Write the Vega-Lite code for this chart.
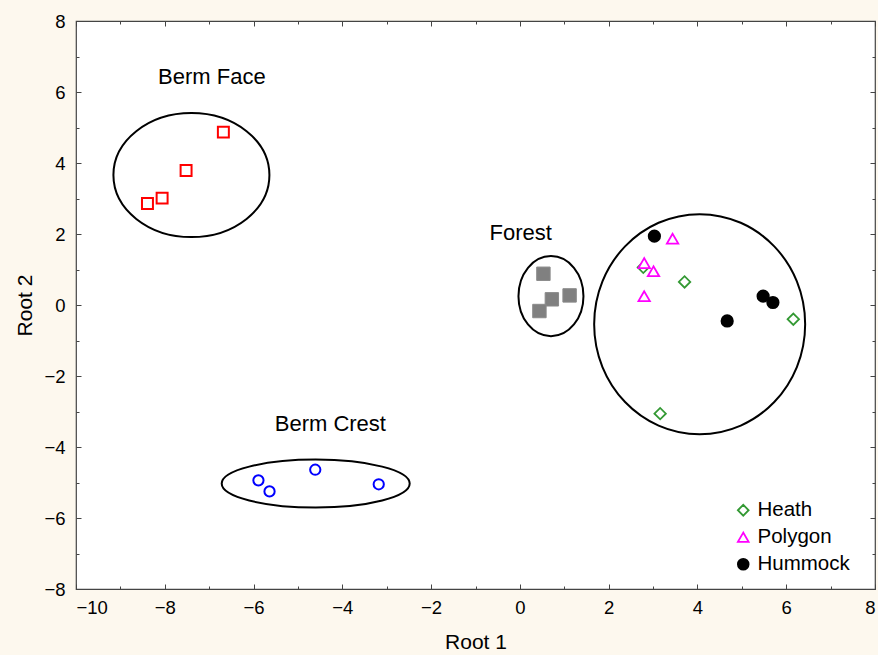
{
  "$schema": "https://vega.github.io/schema/vega-lite/v6.json",
  "width": 799,
  "height": 568,
  "autosize": {"type": "none"},
  "padding": {"left": 76, "top": 21, "right": 3, "bottom": 66},
  "background": "#fdf8ee",
  "datasets": {
    "groups": [
      {"group": "Berm Face", "cx": -7.40, "cy": 3.66},
      {"group": "Berm Crest", "cx": -4.60, "cy": -5.03},
      {"group": "Forest", "cx": 0.70, "cy": 0.25},
      {"group": "Tundra", "cx": 4.05, "cy": -0.54}
    ],
    "samples": [
      {"series": "Berm Face", "root1": -6.68, "root2": 4.87},
      {"series": "Berm Face", "root1": -7.52, "root2": 3.79},
      {"series": "Berm Face", "root1": -8.06, "root2": 3.01},
      {"series": "Berm Face", "root1": -8.39, "root2": 2.86},
      {"series": "Forest", "root1": 0.53, "root2": 0.88},
      {"series": "Forest", "root1": 0.72, "root2": 0.16},
      {"series": "Forest", "root1": 1.12, "root2": 0.27},
      {"series": "Forest", "root1": 0.44, "root2": -0.17},
      {"series": "Berm Crest", "root1": -5.89, "root2": -4.94},
      {"series": "Berm Crest", "root1": -5.64, "root2": -5.25},
      {"series": "Berm Crest", "root1": -4.61, "root2": -4.64},
      {"series": "Berm Crest", "root1": -3.18, "root2": -5.05},
      {"series": "Heath", "root1": 3.71, "root2": 0.65},
      {"series": "Heath", "root1": 6.16, "root2": -0.40},
      {"series": "Heath", "root1": 3.16, "root2": -3.06},
      {"series": "Heath", "root1": 2.78, "root2": 1.06},
      {"series": "Polygon", "root1": 3.44, "root2": 1.87},
      {"series": "Polygon", "root1": 2.80, "root2": 1.18},
      {"series": "Polygon", "root1": 3.01, "root2": 0.95},
      {"series": "Polygon", "root1": 2.80, "root2": 0.25},
      {"series": "Hummock", "root1": 3.03, "root2": 1.94},
      {"series": "Hummock", "root1": 5.48, "root2": 0.25},
      {"series": "Hummock", "root1": 5.70, "root2": 0.07},
      {"series": "Hummock", "root1": 4.67, "root2": -0.45}
    ],
    "captions": [
      {"text": "Berm Face", "root1": -6.94, "root2": 6.42},
      {"text": "Forest", "root1": 0.02, "root2": 2.03},
      {"text": "Berm Crest", "root1": -4.27, "root2": -3.36}
    ]
  },
  "config": {
    "font": "Liberation Sans",
    "view": {"fill": "white", "stroke": "#444444", "strokeWidth": 1.2},
    "axis": {
      "labelFont": "Liberation Sans",
      "labelFontSize": 18.5,
      "labelColor": "#000000",
      "titleFont": "Liberation Sans",
      "titleFontSize": 21,
      "titleFontWeight": "normal",
      "titleColor": "#000000",
      "domainColor": "#444444",
      "tickColor": "#444444",
      "gridColor": "#b4b4b4",
      "gridDash": [1, 2],
      "gridWidth": 1
    },
    "legend": {
      "orient": "none",
      "legendX": 657,
      "legendY": 479,
      "labelFont": "Liberation Sans",
      "labelFontSize": 20.5,
      "labelColor": "#000000",
      "rowPadding": 6,
      "labelOffset": 4,
      "symbolSize": 115,
      "symbolStrokeWidth": 1.8
    }
  },
  "layer": [
    {
      "data": {"name": "groups"},
      "transform": [{"filter": "datum.group === 'Berm Face'"}],
      "mark": {"type": "point", "filled": false, "stroke": "#000000", "strokeWidth": 2, "opacity": 1, "size": 24336,
               "shape": "M-1,0A1,0.795,0,1,1,1,0A1,0.795,0,1,1,-1,0Z"},
      "encoding": {
        "x": {
          "field": "cx", "type": "quantitative",
          "scale": {"domain": [-10, 8], "nice": false, "zero": false},
          "axis": {
            "orient": "top", "values": [-10,-9,-8,-7,-6,-5,-4,-3,-2,-1,0,1,2,3,4,5,6,7,8],
            "labels": false, "grid": false, "domain": false, "title": null,
            "tickSize": {"condition": {"test": "datum.value % 2 === 0", "value": -5}, "value": -3}
          }
        },
        "y": {
          "field": "cy", "type": "quantitative",
          "scale": {"domain": [-8, 8], "nice": false, "zero": false},
          "axis": {
            "orient": "right", "values": [-8,-7,-6,-5,-4,-3,-2,-1,0,1,2,3,4,5,6,7,8],
            "labels": false, "grid": false, "domain": false, "title": null,
            "tickSize": {"condition": {"test": "datum.value % 2 === 0", "value": -5}, "value": -3}
          }
        }
      }
    },
    {
      "data": {"name": "groups"},
      "transform": [{"filter": "datum.group === 'Berm Crest'"}],
      "mark": {"type": "point", "filled": false, "stroke": "#000000", "strokeWidth": 2, "opacity": 1, "size": 35344,
               "shape": "M-1,0A1,0.255,0,1,1,1,0A1,0.255,0,1,1,-1,0Z"},
      "encoding": {
        "x": {"field": "cx", "type": "quantitative", "axis": null},
        "y": {"field": "cy", "type": "quantitative", "axis": null}
      }
    },
    {
      "data": {"name": "groups"},
      "transform": [{"filter": "datum.group === 'Forest'"}],
      "mark": {"type": "point", "filled": false, "stroke": "#000000", "strokeWidth": 2, "opacity": 1, "size": 4225,
               "shape": "M-1,0A1,1.231,0,1,1,1,0A1,1.231,0,1,1,-1,0Z"},
      "encoding": {
        "x": {"field": "cx", "type": "quantitative", "axis": null},
        "y": {"field": "cy", "type": "quantitative", "axis": null}
      }
    },
    {
      "data": {"name": "groups"},
      "transform": [{"filter": "datum.group === 'Tundra'"}],
      "mark": {"type": "point", "filled": false, "stroke": "#000000", "strokeWidth": 2, "opacity": 1, "size": 44521,
               "shape": "M-1,0A1,1.043,0,1,1,1,0A1,1.043,0,1,1,-1,0Z"},
      "encoding": {
        "x": {"field": "cx", "type": "quantitative", "axis": null},
        "y": {"field": "cy", "type": "quantitative", "axis": null}
      }
    },
    {
      "data": {"name": "samples"},
      "transform": [{"filter": "datum.series === 'Berm Face'"}],
      "mark": {"type": "point", "shape": "square", "size": 120, "stroke": "#ff0000", "fill": "#ffffff", "strokeWidth": 2, "opacity": 1, "fillOpacity": 1},
      "encoding": {
        "x": {
          "field": "root1", "type": "quantitative", "title": "Root 1",
          "axis": {
            "values": [-10,-9,-8,-7,-6,-5,-4,-3,-2,-1,0,1,2,3,4,5,6,7,8],
            "labelExpr": "datum.value % 2 === 0 ? datum.label : ''",
            "domain": false,
            "gridOpacity": {"condition": {"test": "datum.value % 2 === 0", "value": 1}, "value": 0},
            "tickSize": {"condition": {"test": "datum.value % 2 === 0", "value": -5}, "value": -3},
            "labelPadding": 14,
            "titlePadding": 15
          }
        },
        "y": {
          "field": "root2", "type": "quantitative", "title": "Root 2",
          "axis": {
            "values": [-8,-7,-6,-5,-4,-3,-2,-1,0,1,2,3,4,5,6,7,8],
            "labelExpr": "datum.value % 2 === 0 ? datum.label : ''",
            "domain": false,
            "gridOpacity": {"condition": {"test": "datum.value % 2 === 0", "value": 1}, "value": 0},
            "tickSize": {"condition": {"test": "datum.value % 2 === 0", "value": -5}, "value": -3},
            "labelPadding": 16,
            "titlePadding": 8
          }
        }
      }
    },
    {
      "data": {"name": "samples"},
      "transform": [{"filter": "datum.series === 'Forest'"}],
      "mark": {"type": "point", "shape": "square", "size": 180, "stroke": "#8a8a8a", "fill": "#808080", "strokeWidth": 1, "opacity": 1, "fillOpacity": 1},
      "encoding": {
        "x": {"field": "root1", "type": "quantitative", "axis": null},
        "y": {"field": "root2", "type": "quantitative", "axis": null}
      }
    },
    {
      "data": {"name": "samples"},
      "transform": [{"filter": "datum.series === 'Berm Crest'"}],
      "mark": {"type": "point", "shape": "circle", "size": 105, "stroke": "#0000ff", "fill": "#ffffff", "strokeWidth": 2, "opacity": 1, "fillOpacity": 1},
      "encoding": {
        "x": {"field": "root1", "type": "quantitative", "axis": null},
        "y": {"field": "root2", "type": "quantitative", "axis": null}
      }
    },
    {
      "data": {"name": "samples"},
      "transform": [{"filter": "indexof(['Heath', 'Polygon', 'Hummock'], datum.series) >= 0"}],
      "mark": {"type": "point", "size": 130, "strokeWidth": 1.8, "opacity": 1, "fillOpacity": 1},
      "encoding": {
        "x": {"field": "root1", "type": "quantitative", "axis": null},
        "y": {"field": "root2", "type": "quantitative", "axis": null},
        "shape": {
          "field": "series", "type": "nominal", "title": null,
          "scale": {"domain": ["Heath", "Polygon", "Hummock"], "range": ["diamond", "triangle-up", "circle"]}
        },
        "stroke": {
          "field": "series", "type": "nominal", "title": null,
          "scale": {"domain": ["Heath", "Polygon", "Hummock"], "range": ["#339933", "#ff00ff", "#000000"]}
        },
        "fill": {
          "field": "series", "type": "nominal", "title": null,
          "scale": {"domain": ["Heath", "Polygon", "Hummock"], "range": ["#ffffff", "#ffffff", "#000000"]}
        }
      }
    },
    {
      "data": {"name": "captions"},
      "mark": {"type": "text", "fontSize": 22, "font": "Liberation Sans", "color": "#000000", "align": "center", "baseline": "middle"},
      "encoding": {
        "x": {"field": "root1", "type": "quantitative", "axis": null},
        "y": {"field": "root2", "type": "quantitative", "axis": null},
        "text": {"field": "text"}
      }
    }
  ],
  "resolve": {
    "axis": {"x": "independent", "y": "independent"}
  }
}
